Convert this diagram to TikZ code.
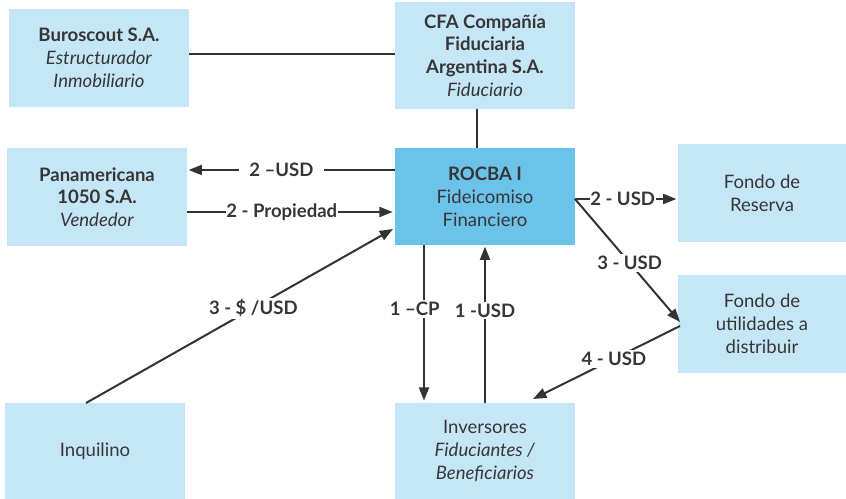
\documentclass[tikz,border=0pt]{standalone}
\usepackage{fontspec}
\setmainfont{Lato}
\usetikzlibrary{arrows.meta}
\definecolor{boxlight}{HTML}{C5E6F7}
\definecolor{boxdark}{HTML}{6CC3EA}
\definecolor{ink}{HTML}{363636}
\definecolor{wire}{HTML}{333333}
\tikzset{
  ent/.style={fill=boxlight, draw=none, align=center, text=ink, font=\fontsize{13.9}{17.1}\selectfont, inner sep=0pt},
  w180/.style={minimum width=135pt},
  w168/.style={minimum width=126pt},
  conn/.style={draw=wire, line width=1.5pt},
  arr/.style={conn, -{Triangle[length=10pt,width=7.5pt]}},
  lab/.style={fill=white, text=ink, font=\bfseries\fontsize{13.9}{15}\selectfont, inner sep=1.5pt}
}
\begin{document}
\begin{tikzpicture}[x=0.75pt,y=-0.75pt]
\useasboundingbox (0,0) rectangle (846,499);
\node[ent,w180,minimum height=73.5pt] (buro) at (99,58) {\textbf{Buroscout S.A.}\\\textit{Estructurador}\\\textit{Inmobiliario}};
\node[ent,w180,minimum height=80.25pt] (cfa) at (485,55.5) {\rule{0pt}{6pt}\textbf{CFA Compañía}\\\textbf{Fiduciaria}\\\textbf{Argentina S.A.}\\\textit{Fiduciario}};
\node[ent,w180,minimum height=73.5pt] (pan) at (97,197) {\textbf{Panamericana}\\\textbf{1050 S.A.}\\\textit{Vendedor}};
\node[ent,w180,minimum height=72.75pt,fill=boxdark] (rocba) at (485,196.5) {\textbf{ROCBA I}\\Fideicomiso\\Financiero};
\node[ent,w168,minimum height=73.5pt] (res) at (762,193) {Fondo de\\Reserva};
\node[ent,w168,minimum height=73.5pt] (util) at (762,324) {Fondo de\\utilidades a\\distribuir};
\node[ent,w180,minimum height=72pt] (inq) at (95,451) {Inquilino};
\node[ent,w180,minimum height=72pt] (inv) at (485,451) {Inversores\\\textit{Fiduciantes /}\\\textit{Beneficiarios}};

\draw[conn] (buro.east |- 0,54) -- (cfa.west |- 0,54);
\draw[conn] (cfa.south -| 477,0) -- (rocba.north -| 477,0);

\draw[arr] (rocba.west |- 0,170) -- node[lab,pos=0.55,inner xsep=8pt]{2 –USD} ([xshift=1pt]pan.east |- 0,170);
\draw[arr] (pan.east |- 0,212) -- node[lab,pos=0.46,inner sep=0.5pt]{2 - Propiedad} ([xshift=-1.5pt]rocba.west |- 0,212);
\coordinate (inqtop) at (86,403);
\coordinate (rocsw) at (393,229);
\draw[arr] (inqtop) -- node[lab,pos=0.545]{3 - \$ /USD} (rocsw);
\draw[arr] (rocba.south -| 424,0) -- node[lab,pos=0.41,xshift=-7pt]{1 –CP} ([yshift=1.5pt]inv.north -| 424,0);
\draw[arr] (inv.north -| 485,0) -- node[lab,pos=0.59]{1 -USD} ([yshift=-1pt]rocba.south -| 485,0);
\coordinate (rocE) at (575,199);
\draw[arr] (rocE) -- node[lab,pos=0.47,inner sep=0.5pt]{2 - USD} ([xshift=-1pt]res.west |- 0,199);
\coordinate (utilW) at (680,322);
\draw[arr] (rocE) -- node[lab,pos=0.52]{3 - USD} (utilW);
\coordinate (utilW2) at (680,326);
\coordinate (invNE) at (533,399);
\draw[arr] (utilW2) -- node[lab,pos=0.45]{4 - USD} (invNE);
\end{tikzpicture}
\end{document}
